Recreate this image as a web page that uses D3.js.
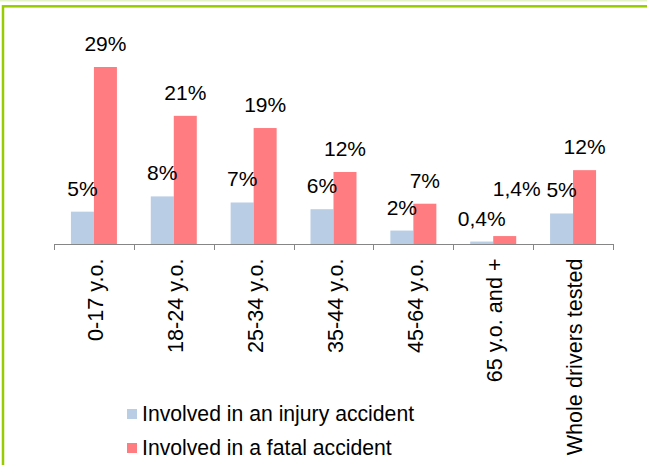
<!DOCTYPE html>
<html>
<head>
<meta charset="utf-8">
<script src="https://cdn.jsdelivr.net/npm/d3@7"></script>
<style>
  body { margin: 0; background: #fff; }
  text { font-family: "Liberation Sans", Arial, sans-serif; fill: #000; }
</style>
</head>
<body>
<div id="chart"></div>
<script>
// data
var categories = ["0-17 y.o.", "18-24 y.o.", "25-34 y.o.", "35-44 y.o.", "45-64 y.o.", "65 y.o. and +", "Whole drivers tested"];
var injury = [0.053, 0.078, 0.068, 0.057, 0.022, 0.004, 0.050];
var fatal = [0.29, 0.21, 0.19, 0.118, 0.066, 0.013, 0.121];
var injuryLabels = ["5%", "8%", "7%", "6%", "2%", "0,4%", "5%"];
var fatalLabels = ["29%", "21%", "19%", "12%", "7%", "1,4%", "12%"];
var seriesNames = ["Involved in an injury accident", "Involved in a fatal accident"];
var colors = ["#B9CDE5", "#FF7C80"];

var W = 647, H = 465;

var svg = d3.select("#chart")
  .append("svg")
    .attr("width", W)
    .attr("height", H);

// frame
svg.append("rect").attr("x", 0).attr("y", 0).attr("width", W).attr("height", 1.5).attr("fill", "#E4F3C6");
svg.append("rect")
  .attr("x", 3).attr("y", 6.3)
  .attr("width", W + 20).attr("height", H + 20)
  .attr("fill", "none")
  .attr("stroke", "#99CC00")
  .attr("stroke-width", 2.5);

var x = d3.scaleBand()
  .domain(categories)
  .range([54, 613]);

var y = d3.scaleLinear()
  .domain([0, 0.35])
  .range([244, 244 - 0.35 * 610.3]);

var bw = x.bandwidth() * 0.288;

var rows = categories.map(function(c, i) {
  return {cat: c, injury: injury[i], fatal: fatal[i], il: injuryLabels[i], fl: fatalLabels[i]};
});

// bars
var g = svg.selectAll(".grp")
  .data(rows)
  .enter()
  .append("g")
    .attr("class", "grp")
    .attr("transform", function(d) { return "translate(" + (x(d.cat) + x.bandwidth() / 2) + ",0)"; });

g.append("rect")
  .attr("x", -bw)
  .attr("y", function(d) { return y(d.injury); })
  .attr("width", bw)
  .attr("height", function(d) { return y(0) - y(d.injury); })
  .attr("fill", colors[0]);

g.append("rect")
  .attr("x", 0)
  .attr("y", function(d) { return y(d.fatal); })
  .attr("width", bw)
  .attr("height", function(d) { return y(0) - y(d.fatal); })
  .attr("fill", colors[1]);

// data labels
g.append("text")
  .attr("x", -bw / 2)
  .attr("y", function(d) { return y(d.injury) - 16; })
  .attr("text-anchor", "middle")
  .style("font-size", "21px")
  .text(function(d) { return d.il; });

// the 1,4% label was moved up/right in the original so it does not hit 0,4%
g.append("text")
  .attr("x", function(d, i) { return bw / 2 + (i == 5 ? 12 : 0); })
  .attr("y", function(d, i) { return y(d.fatal) - 16 - (i == 5 ? 24 : 0); })
  .attr("text-anchor", "middle")
  .style("font-size", "21px")
  .text(function(d) { return d.fl; });

// x axis
var xAxis = svg.append("g")
  .attr("transform", "translate(0," + y(0) + ")");

xAxis.append("line")
  .attr("x1", 54).attr("x2", 613)
  .attr("y1", 0.5).attr("y2", 0.5)
  .attr("stroke", "#868686");

xAxis.selectAll(".tick")
  .data(categories.concat([null]))
  .enter()
  .append("line")
    .attr("x1", function(d, i) { return Math.round(54 + i * x.step()) + 0.5; })
    .attr("x2", function(d, i) { return Math.round(54 + i * x.step()) + 0.5; })
    .attr("y1", 0)
    .attr("y2", 6)
    .attr("stroke", "#868686");

xAxis.selectAll(".lbl")
  .data(categories)
  .enter()
  .append("text")
    .attr("transform", function(d) { return "translate(" + (x(d) + x.bandwidth() / 2 + 1) + ",14.5) rotate(-90)"; })
    .attr("text-anchor", "end")
    .attr("dy", "0.38em")
    .style("font-size", "21.6px")
    .text(function(d) { return d; });

// legend
var legend = svg.selectAll(".leg")
  .data(seriesNames)
  .enter()
  .append("g")
    .attr("transform", function(d, i) { return "translate(127," + (409 + i * 34) + ")"; });

legend.append("rect")
  .attr("width", 10).attr("height", 10)
  .attr("fill", function(d, i) { return colors[i]; });

legend.append("text")
  .attr("x", 15)
  .attr("y", 12)
  .style("font-size", "21.2px")
  .text(function(d) { return d; });
</script>
</body>
</html>
